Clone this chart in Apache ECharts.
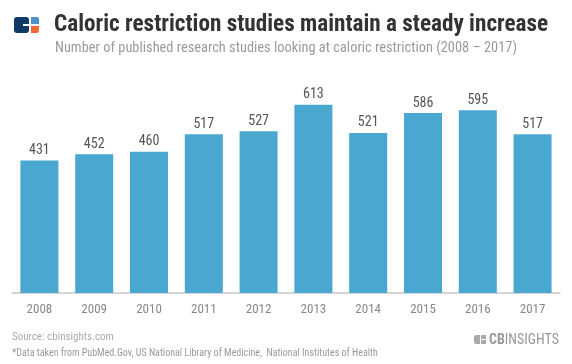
<!DOCTYPE html>
<html><head><meta charset="utf-8">
<script src="https://cdn.jsdelivr.net/npm/echarts@6/dist/echarts.min.js"></script>
<style>html,body{margin:0;padding:0;background:#fff}#c{width:572px;height:364px}</style>
</head><body><div id="c"></div>
<script>
const years = ['2008','2009','2010','2011','2012','2013','2014','2015','2016','2017'];
const studies = [431, 452, 460, 517, 527, 613, 521, 586, 595, 517];
const titleText = 'Caloric restriction studies maintain a steady increase';
const subtitleText = 'Number of published research studies looking at caloric restriction (2008 \u2013 2017)';
const sourceText = 'Source: cbinsights.com';
const noteText = '*Data taken from PubMed.Gov, US National Library of Medicine,  National Institutes of Health';

const FONT = "'Liberation Sans Narrow','Roboto Condensed','DejaVu Sans Condensed',Roboto,sans-serif";
const chart = echarts.init(document.getElementById('c'), null, {renderer:'canvas'});
chart.setOption({
  backgroundColor:'#fff',
  animation:false,
  textStyle:{fontFamily:FONT},
  grid:{left:12, right:12, top:78, bottom:71, containLabel:false},
  xAxis:{type:'category', data:years,
    axisLine:{lineStyle:{color:'#c8c8c8', width:1.5}},
    axisTick:{show:false},
    axisLabel:{color:'#888', fontSize:13, margin:10, fontFamily:FONT}},
  yAxis:{type:'value', min:0, max:700, show:false, splitLine:{show:false}},
  series:[{type:'bar', data:studies, barWidth:38,
    itemStyle:{color:'#4aa8d0'},
    label:{show:true, position:'top', distance:3, color:'#555', fontSize:14, fontFamily:FONT}}],
  graphic:[
    {type:'rect', shape:{x:14,y:17,width:15,height:16,r:3}, style:{fill:'#0e3a63'}},
    {type:'rect', shape:{x:23,y:24,width:6,height:2}, style:{fill:'#fff'}},
    {type:'rect', shape:{x:31,y:17,width:8,height:7,r:[0,2,0,0]}, style:{fill:'#4f93cc'}},
    {type:'rect', shape:{x:31,y:26,width:8,height:7,r:[0,0,2,0]}, style:{fill:'#f26a32'}},
    {type:'text', left:54, top:14, style:{text:titleText, font:"bold 23.2px "+FONT, fill:'#333'}},
    {type:'text', left:55, top:41, style:{text:subtitleText, font:"14.4px "+FONT, fill:'#9a9a9a'}},
    {type:'text', left:12, top:332, style:{text:sourceText, font:"11px "+FONT, fill:'#aaa'}},
    {type:'text', left:12, top:348, style:{text:noteText, font:"10px "+FONT, fill:'#999'}},
    {type:'rect', shape:{x:474,y:335,width:6,height:9,r:[2,0,0,2]}, style:{fill:'#aaa'}},
    {type:'rect', shape:{x:481,y:335,width:5,height:4}, style:{fill:'#aaa'}},
    {type:'rect', shape:{x:481,y:340,width:5,height:4}, style:{fill:'#aaa'}},
    {type:'text', left:489, top:333, style:{rich:{a:{font:"bold 14px "+FONT, fill:'#999'}, b:{font:"14px "+FONT, fill:'#999'}}, text:'{a|CB}{b|INSIGHTS}'}}
  ]
});
</script></body></html>
